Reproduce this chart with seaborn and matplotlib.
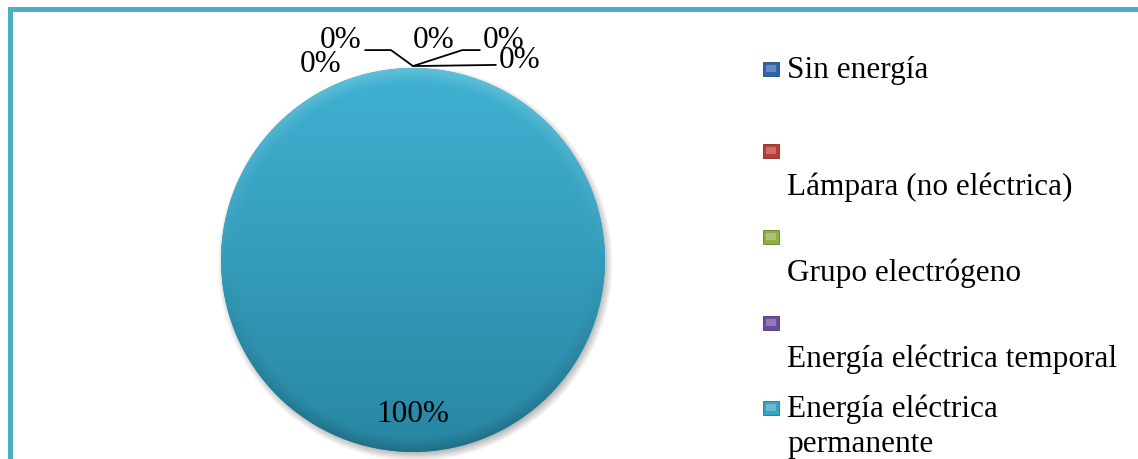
import numpy as np
import matplotlib
matplotlib.use("Agg")
import matplotlib.pyplot as plt
from matplotlib.patches import Rectangle
from matplotlib.colors import to_rgb
import seaborn as sns

# Household energy source shares (percent)
categories = [
    "Sin energía",
    "Lámpara (no eléctrica)",
    "Grupo electrógeno",
    "Energía eléctrica temporal",
    "Energía eléctrica permanente",
    "Otro",
]
values = [0, 0, 0, 0, 100, 0]
colors = ["#2F64A8", "#B93C37", "#8DB043", "#6A4D98", "#35A3C2", "#E8852E"]

# How each legend entry wraps on screen
legend_lines = [
    ["Sin energía"],
    ["", "Lámpara (no eléctrica)"],
    ["", "Grupo electrógeno"],
    ["", "Energía eléctrica temporal"],
    ["Energía eléctrica", "permanente"],
    ["", "Otro"],
]

sns.set_theme(style="white")
plt.rcParams["font.family"] = ["Liberation Serif", "DejaVu Serif"]

W, H, DPI = 1138, 460, 100
fig = plt.figure(figsize=(W / DPI, H / DPI), dpi=DPI)
fig.patch.set_facecolor("white")

def px(x, y):
    """Figure fraction from pixel position (origin top-left)."""
    return x / W, 1 - y / H

# Outer frame (runs off the right and bottom edges)
frame = Rectangle(px(10, 490), 1200 / W, 480 / H, transform=fig.transFigure,
                  fill=False, edgecolor="#4BAFC6", linewidth=5 * 72 / DPI)
fig.patches.append(frame)

# Pie axes
cx, cy, R = 413, 261, 192
lim = 1.06
half = R * lim
ax = fig.add_axes([(cx - half) / W, (H - cy - half) / H, 2 * half / W, 2 * half / H])

wedges, _ = ax.pie(values, colors=colors, startangle=90, counterclock=False,
                   radius=1, wedgeprops=dict(linewidth=0))
for w in wedges:
    w.set_zorder(1)
ax.set_aspect("equal")
ax.axis("off")

# Soft drop shadow
n = 400
g = np.linspace(-lim, lim, n)
X, Y = np.meshgrid(g, g)
rs = np.hypot(X - 0.012, Y + 0.018)
sh = np.clip((1.03 - rs) / 0.05, 0, 1)
shadow = np.zeros((n, n, 4))
shadow[..., :3] = 0.35
shadow[..., 3] = sh * 0.45
ax.imshow(shadow, extent=(-lim, lim, -lim, lim), origin="lower", zorder=0)

# Shaded fill for each visible wedge
top_c = np.array(to_rgb("#40B2D2"))
bot_c = np.array(to_rgb("#2886A2"))
r = np.hypot(X, Y)
t = (1 - Y) / 2
base = top_c[None, None, :] * (1 - t[..., None]) + bot_c[None, None, :] * t[..., None]
rim = np.clip((r - 0.92) / 0.08, 0, 1)
light = np.clip(Y, 0, 1) * rim * 0.18
dark = np.clip(-Y, 0, 1) * rim * 0.18
img = base * (1 - dark[..., None]) + light[..., None] * (1 - base)
img = np.clip(img, 0, 1)
for w, v, c in zip(wedges, values, colors):
    if v <= 0:
        continue
    tint = np.array(to_rgb(c)) / np.array(to_rgb("#35A3C2"))
    im = ax.imshow(np.clip(img * tint, 0, 1), extent=(-lim, lim, -lim, lim),
                   origin="lower", zorder=2)
    im.set_clip_path(w)
ax.set_xlim(-lim, lim)
ax.set_ylim(-lim, lim)

total = sum(values)
label_font = dict(fontsize=22.5, color="black")

# Label for the visible wedge(s)
for w, v in zip(wedges, values):
    if v <= 0:
        continue
    mid = np.deg2rad((w.theta1 + w.theta2) / 2)
    ax.text(0.8 * np.cos(mid), 0.8 * np.sin(mid), f"{v / total * 100:.0f}%",
            ha="center", va="center", zorder=5, **label_font)

# Labels for the zero-width wedges, spread around the top of the pie
zero_offsets = [(-72, 27), (21, 27), (91, 27), (107, 7), (-92, 3)]
zero_leaders = [
    dict(relpos=(1.0, 0.12), connectionstyle="angle,angleA=0,angleB=-36,rad=0"),
    None,
    dict(relpos=(0.0, 0.12), connectionstyle="angle,angleA=0,angleB=18,rad=0"),
    dict(relpos=(0.0, 0.3), connectionstyle="arc3,rad=0"),
    None,
]
zi = 0
for w, v in zip(wedges, values):
    if v > 0:
        continue
    ang = np.deg2rad(w.theta1)
    anchor = (np.cos(ang), np.sin(ang) + 0.01)
    off = zero_offsets[zi]
    lead = zero_leaders[zi]
    kw = {}
    if lead is not None:
        kw["arrowprops"] = dict(arrowstyle="-", color="black", lw=1.3,
                                shrinkA=0, shrinkB=0, relpos=lead["relpos"],
                                connectionstyle=lead["connectionstyle"])
    ax.annotate(f"{v / total * 100:.0f}%", xy=anchor, xytext=off,
                textcoords="offset pixels", ha="center", va="center",
                annotation_clip=False, zorder=6, **label_font, **kw)
    zi += 1

# Legend drawn as bevelled swatches + wrapped text
marker_y = [70, 152, 238, 324, 409, 494]
line_h = 35
for c, lines, my in zip(colors, legend_lines, marker_y):
    rgb = np.array(to_rgb(c))
    x0, y0 = px(763, my + 7)
    sw = Rectangle((x0, y0), 16 / W, 14 / H, transform=fig.transFigure,
                   facecolor=c, edgecolor=tuple(rgb * 0.7), linewidth=0.6)
    fig.patches.append(sw)
    ix, iy = px(766, my + 3)
    inner = Rectangle((ix, iy), 10 / W, 7 / H, transform=fig.transFigure,
                      facecolor=tuple(rgb + (1 - rgb) * 0.25), linewidth=0)
    fig.patches.append(inner)
    for k, line in enumerate(lines):
        if not line:
            continue
        tx, ty = px(787, my + 8 + k * line_h)
        fig.text(tx, ty, line, ha="left", va="baseline", **label_font)

fig.savefig("out.png", dpi=DPI, facecolor="white")
